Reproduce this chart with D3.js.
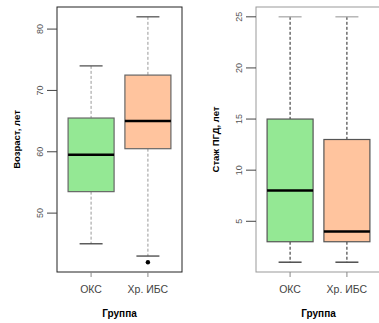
<!DOCTYPE html>
<html>
<head>
<meta charset="utf-8">
<script src="https://cdn.jsdelivr.net/npm/d3@7"></script>
<style>
  body { margin: 0; background: #fff; }
  svg { display: block; font-family: "Liberation Sans", Arial, sans-serif; }
</style>
</head>
<body>
<svg id="chart" width="379" height="323"></svg>
<script>
// Groups
const groups = ["ОКС", "Хр. ИБС"];
const groupColors = ["#94E894", "#FFC49E"];

// Age, years: [min, q1, median, q3, max]
const ageStats = [
    [45, 53.5, 59.5, 65.5, 74],
    [43, 60.5, 65, 72.5, 82],
];
const ageOutliers = [[], [42]];
const ageTicks = [50, 60, 70, 80];

// Smoking experience, years: [min, q1, median, q3, max]
const smokeStats = [
    [1, 3, 8, 15, 25],
    [1, 3, 4, 13, 25],
];
const smokeOutliers = [[], []];
const smokeTicks = [5, 10, 15, 20, 25];

const svg = d3.select("#chart");

const panels = [
    {
        stats: ageStats, outliers: ageOutliers, ticks: ageTicks,
        label: "Возраст, лет", left: 57, right: 182,
        frame: "#222", dash: "#999", capTop: "#555", capBottom: "#444",
        boxStroke: "#666",
    },
    {
        stats: smokeStats, outliers: smokeOutliers, ticks: smokeTicks,
        label: "Стаж ПГД, лет", left: 256, right: 382,
        frame: "#999", dash: "#222", capTop: "#aaa", capBottom: "#333",
        boxStroke: "#555",
    },
];

const plotTop = 7, plotBottom = 272, plotWidth = 125;

panels.forEach(drawPanel);

function drawPanel(p) {
    const all = p.stats.flat().concat(p.outliers.flat());
    const lo = d3.min(all), hi = d3.max(all);
    const pad = (hi - lo) * 0.04;

    const y = d3.scaleLinear().domain([lo - pad, hi + pad]).range([plotBottom, plotTop]);
    const x = d3.scalePoint().domain(groups).range([p.left, p.left + plotWidth]).padding(0.6);

    const g = svg.append("g");

    const boxW = 46;
    groups.forEach((name, i) => {
        const s = p.stats[i];
        const cx = x(name);
        // whiskers
        g.append("line").attr("x1", cx).attr("x2", cx)
            .attr("y1", y(s[4])).attr("y2", y(s[3]))
            .attr("stroke", p.dash).attr("stroke-dasharray", "3,2");
        g.append("line").attr("x1", cx).attr("x2", cx)
            .attr("y1", y(s[1])).attr("y2", y(s[0]))
            .attr("stroke", p.dash).attr("stroke-dasharray", "3,2");
        // caps
        g.append("line").attr("x1", cx - boxW / 4).attr("x2", cx + boxW / 4)
            .attr("y1", y(s[4])).attr("y2", y(s[4]))
            .attr("stroke", p.capTop).attr("stroke-width", 1.3);
        g.append("line").attr("x1", cx - boxW / 4).attr("x2", cx + boxW / 4)
            .attr("y1", y(s[0])).attr("y2", y(s[0]))
            .attr("stroke", p.capBottom).attr("stroke-width", 1.3);
        // box
        g.append("rect").attr("x", cx - boxW / 2).attr("width", boxW)
            .attr("y", y(s[3])).attr("height", y(s[1]) - y(s[3]))
            .attr("fill", groupColors[i]).attr("stroke", p.boxStroke).attr("stroke-width", 1.2);
        // median
        g.append("line").attr("x1", cx - boxW / 2).attr("x2", cx + boxW / 2)
            .attr("y1", y(s[2])).attr("y2", y(s[2]))
            .attr("stroke", "#000").attr("stroke-width", 2.5);
        // outliers
        p.outliers[i].forEach(v => {
            g.append("circle").attr("cx", cx).attr("cy", y(v)).attr("r", 2.2).attr("fill", "#000");
        });
    });

    // Frame
    g.append("rect").attr("x", p.left).attr("y", plotTop)
        .attr("width", p.right - p.left).attr("height", plotBottom - plotTop)
        .attr("fill", "none").attr("stroke", p.frame).attr("stroke-width", 1);

    // Y axis
    p.ticks.forEach(t => {
        g.append("line").attr("x1", p.left - 10).attr("x2", p.left)
            .attr("y1", y(t)).attr("y2", y(t)).attr("stroke", "#444");
        g.append("text")
            .attr("transform", `translate(${p.left - 14},${y(t)}) rotate(-90)`)
            .attr("text-anchor", "middle")
            .attr("font-size", 9).attr("fill", "#555")
            .text(t);
    });

    // X axis
    groups.forEach(name => {
        const cx = x(name);
        g.append("line").attr("x1", cx).attr("x2", cx)
            .attr("y1", plotBottom).attr("y2", plotBottom + 5).attr("stroke", "#888");
        g.append("text").attr("x", cx).attr("y", 293)
            .attr("text-anchor", "middle").attr("font-size", 10.5).attr("fill", "#444")
            .text(name);
    });

    // Titles
    const xMid = p.left + plotWidth / 2;
    g.append("text").attr("x", xMid).attr("y", 317)
        .attr("text-anchor", "middle").attr("font-size", 10).attr("font-weight", "bold")
        .text("Группа");
    g.append("text")
        .attr("transform", `translate(${p.left - 37},${(plotTop + plotBottom) / 2}) rotate(-90)`)
        .attr("text-anchor", "middle").attr("font-size", 9.5).attr("font-weight", "bold")
        .text(p.label);
}
</script>
</body>
</html>
